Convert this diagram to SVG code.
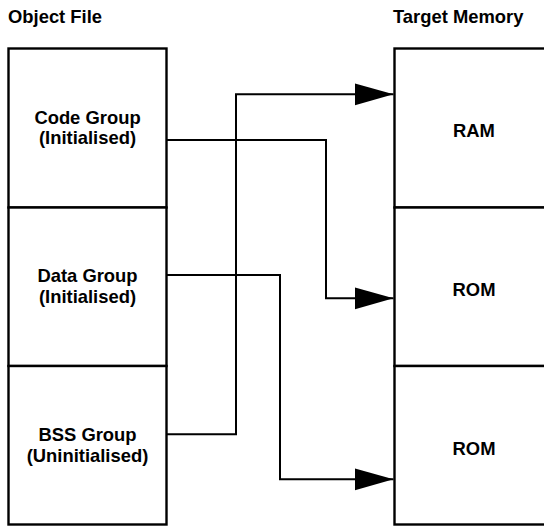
<svg xmlns="http://www.w3.org/2000/svg" width="544" height="526" viewBox="0 0 544 526">
<style>
.box{fill:#fff;stroke:#000;stroke-width:2.4}
.t{font-family:"Liberation Sans",Arial,Helvetica,sans-serif;font-weight:bold;font-size:18.4px;fill:#000}
.c{text-anchor:middle}
.ln{fill:none;stroke:#000;stroke-width:2;stroke-linejoin:miter}
</style>
<defs>
<marker id="ah" markerUnits="userSpaceOnUse" markerWidth="40" markerHeight="24" refX="39" refY="11" orient="auto" viewBox="0 0 40 24">
<polygon points="0,0 39,11 0,22" fill="#000"/>
</marker>
</defs>
<rect width="544" height="526" fill="#fff"/>
<text class="t" x="8" y="23">Object File</text>
<text class="t" x="393" y="23">Target Memory</text>
<g id="code-group">
<rect class="box" x="8.5" y="48.5" width="158" height="159"/>
<text class="t c" x="87.5" y="123.5">Code Group</text>
<text class="t c" x="87.5" y="144">(Initialised)</text>
</g>
<g id="data-group">
<rect class="box" x="8.5" y="207.5" width="158" height="158.5"/>
<text class="t c" x="87.5" y="282">Data Group</text>
<text class="t c" x="87.5" y="303">(Initialised)</text>
</g>
<g id="bss-group">
<rect class="box" x="8.5" y="366" width="158" height="158.5"/>
<text class="t c" x="87.5" y="440.5">BSS Group</text>
<text class="t c" x="87.5" y="461.5">(Uninitialised)</text>
</g>
<g id="ram">
<rect class="box" x="394.5" y="48.5" width="159" height="159"/>
<text class="t c" x="474" y="137">RAM</text>
</g>
<g id="rom1">
<rect class="box" x="394.5" y="207.5" width="159" height="158.5"/>
<text class="t c" x="474" y="295.5">ROM</text>
</g>
<g id="rom2">
<rect class="box" x="394.5" y="366" width="159" height="158.5"/>
<text class="t c" x="474" y="454.5">ROM</text>
</g>
<g id="connectors">
<polyline class="ln" points="167,434.3 236,434.3 236,94.3 393.5,94.3" marker-end="url(#ah)"/>
<polyline class="ln" points="167,140 326,140 326,298.3 393.5,298.3" marker-end="url(#ah)"/>
<polyline class="ln" points="167,275 280,275 280,479.3 393.5,479.3" marker-end="url(#ah)"/>
</g>
</svg>
